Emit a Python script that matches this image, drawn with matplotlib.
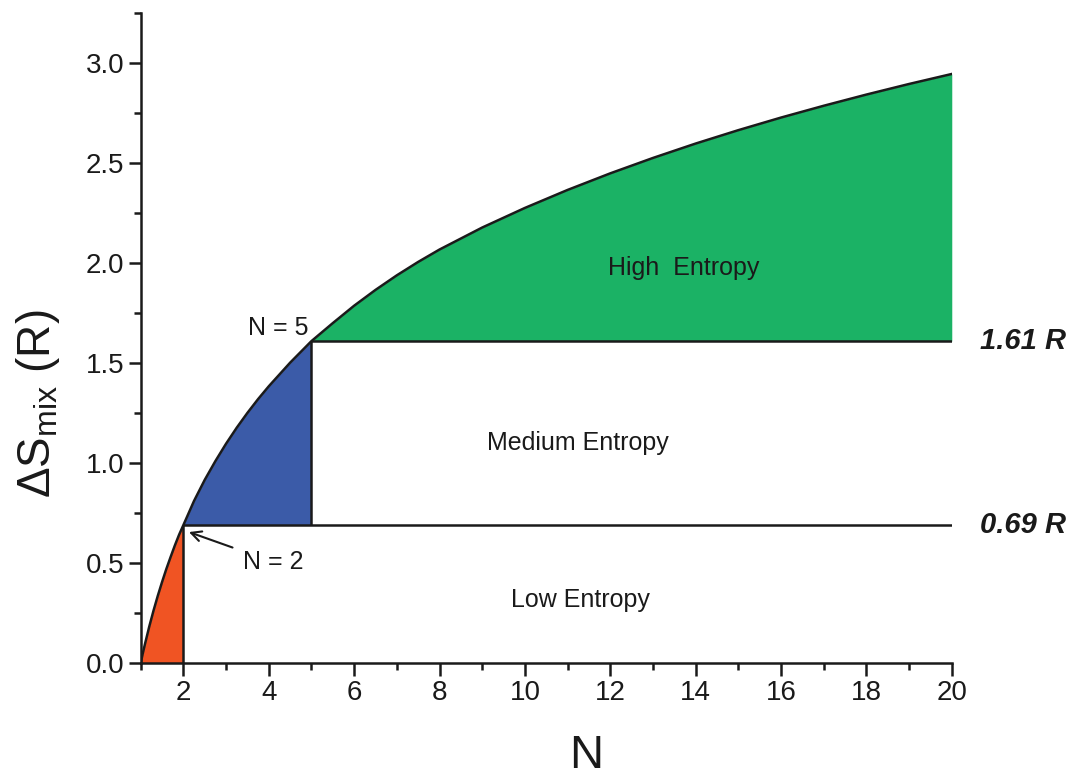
import numpy as np
import matplotlib
matplotlib.use("Agg")
import matplotlib.pyplot as plt

plt.rcParams['font.family'] = ['Liberation Sans', 'DejaVu Sans']
plt.rcParams['mathtext.fontset'] = 'custom'
plt.rcParams['mathtext.rm'] = 'Liberation Sans'

# ---- data ----
N = np.array([1.0, 1.05, 1.1, 1.2, 1.3, 1.4, 1.5, 1.6, 1.7, 1.8, 1.9, 2.0,
              2.25, 2.5, 2.75, 3.0, 3.25, 3.5, 3.75, 4.0, 4.5, 5.0,
              5.5, 6.0, 6.5, 7.0, 7.5, 8, 9, 10, 11, 12, 13, 14, 15, 16, 17, 18, 19, 20])
S = np.array([0.0, 0.049, 0.095, 0.182, 0.262, 0.336, 0.405, 0.470, 0.530, 0.588, 0.642, 0.69,
              0.811, 0.916, 1.010, 1.097, 1.177, 1.251, 1.320, 1.384, 1.502, 1.61,
              1.70, 1.787, 1.866, 1.939, 2.006, 2.068, 2.178, 2.276, 2.366, 2.449, 2.526,
              2.598, 2.665, 2.728, 2.787, 2.843, 2.896, 2.946])
low_lim = 0.69
high_lim = 1.61
n_low = 2
n_high = 5
region_names = ['Low Entropy', 'Medium Entropy', 'High  Entropy']
limit_labels = ['0.69 R', '1.61 R']

fig = plt.figure(figsize=(10.7, 7.76), dpi=100)
ax = fig.add_axes([0.1315, 0.1456, 0.758, 0.8374])

ax.fill_between(N, 0, S, where=N <= n_low, color='#F05423', lw=0)
ax.fill_between(N, low_lim, S, where=(N >= n_low) & (N <= n_high), color='#3B5BA8', lw=0)
ax.fill_between(N, high_lim, S, where=N >= n_high, color='#1BB265', lw=0)

ax.plot(N, S, color='#1a1a1a', lw=1.8)
ax.hlines(low_lim, n_low, 20, color='#1a1a1a', lw=1.8)
ax.hlines(high_lim, n_high, 20, color='#1a1a1a', lw=1.8)
ax.vlines(n_low, 0, low_lim, color='#1a1a1a', lw=1.8)
ax.vlines(n_high, low_lim, high_lim, color='#1a1a1a', lw=1.8)

ax.set_xlim(1, 20)
ax.set_ylim(0, 3.25)
ax.set_xticks(np.arange(2, 21, 2))
ax.set_xticks(np.arange(1, 20, 2), minor=True)
ax.set_yticks(np.arange(0, 3.01, 0.5))
ax.set_yticks(np.arange(0.25, 3.26, 0.5), minor=True)
ax.set_yticklabels(['%.1f' % v for v in np.arange(0, 3.01, 0.5)])

for s in ['top', 'right']:
    ax.spines[s].set_visible(False)
for s in ['left', 'bottom']:
    ax.spines[s].set_linewidth(1.8)
    ax.spines[s].set_color('#1a1a1a')
ax.tick_params(which='major', length=9, width=1.8, labelsize=20, color='#1a1a1a', labelcolor='#1a1a1a', pad=3)
ax.tick_params(which='minor', length=5, width=1.8, color='#1a1a1a')

# texts
ax.text(11.29, 0.28, region_names[0], fontsize=18, ha='center', va='baseline', color='#1a1a1a')
ax.text(11.25, 1.065, region_names[1], fontsize=18, ha='center', va='baseline', color='#1a1a1a')
ax.text(13.71, 1.94, region_names[2], fontsize=18, ha='center', va='baseline', color='#1a1a1a')

ax.text(20.66, low_lim, limit_labels[0], fontsize=21, fontweight='bold', fontstyle='italic',
        ha='left', va='center', clip_on=False, color='#1a1a1a')
ax.text(20.66, high_lim, limit_labels[1], fontsize=21, fontweight='bold', fontstyle='italic',
        ha='left', va='center', clip_on=False, color='#1a1a1a')

ax.text(4.93, 1.675, 'N = 5', fontsize=18, ha='right', va='center', color='#1a1a1a')
ax.annotate('N = 2', xy=(2.13, 0.655), xytext=(3.4, 0.505), fontsize=18, ha='left', va='center',
            color='#1a1a1a',
            arrowprops=dict(arrowstyle='->', lw=1.5, color='#1a1a1a', shrinkA=6, shrinkB=0,
                            mutation_scale=18))

fig.text(586 / 1070, 1 - 756 / 776, 'N', fontsize=34, ha='center', va='center', color='#1a1a1a')
fig.text(38 / 1070, 1 - 404 / 776, r'$\Delta$S$_{\mathrm{mix}}$ (R)', fontsize=33, rotation=90,
         ha='center', va='center', color='#1a1a1a')

fig.savefig('out.png', dpi=100)
